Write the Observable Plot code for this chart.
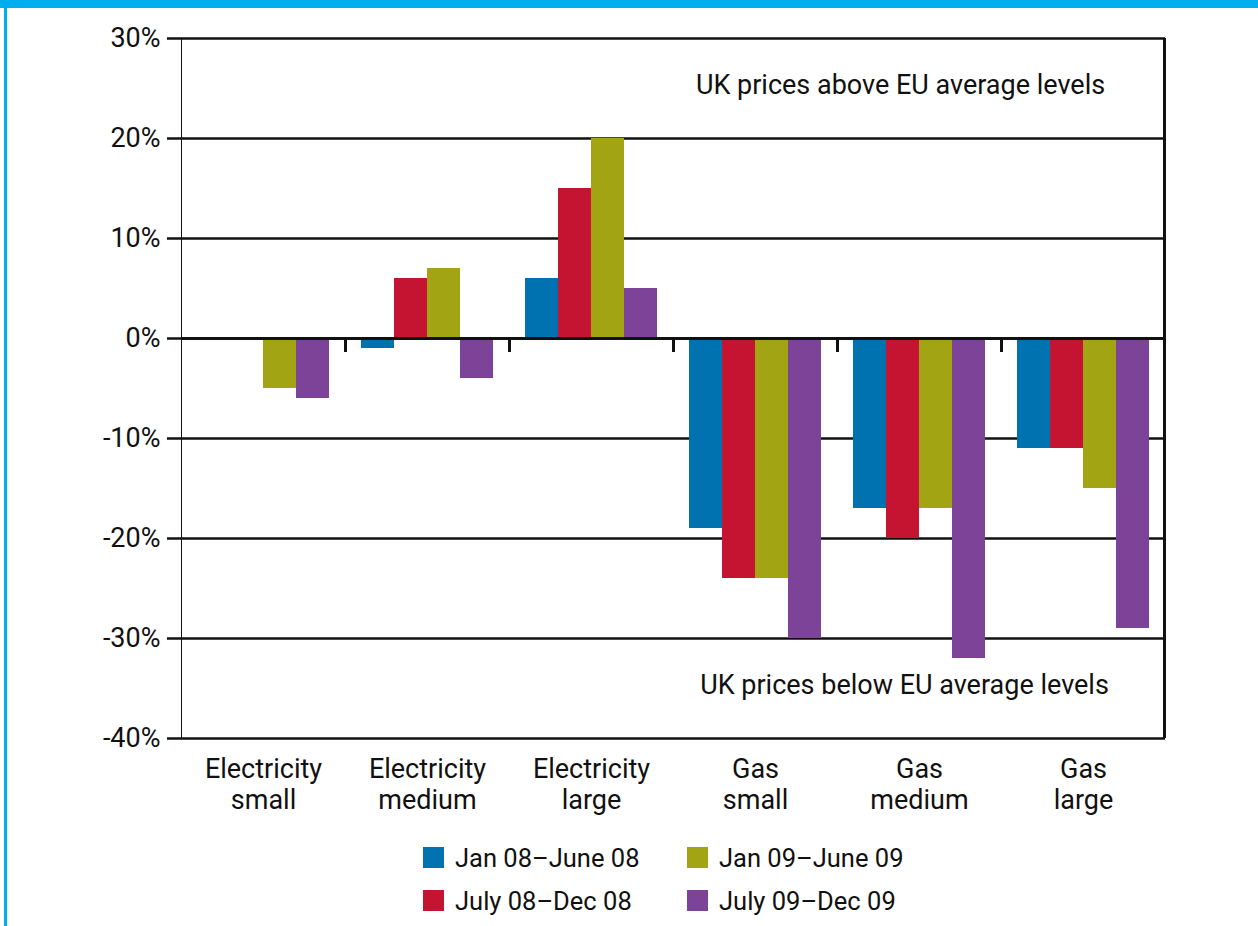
<!DOCTYPE html>
<html>
<head>
<meta charset="utf-8">
<script src="https://cdn.jsdelivr.net/npm/d3@7"></script>
<script src="https://cdn.jsdelivr.net/npm/@observablehq/plot@0.6"></script>
<style>
  html, body { margin: 0; padding: 0; background: #fff; }
  #page { position: relative; width: 1258px; height: 926px; overflow: hidden; font-family: Roboto, "DejaVu Sans", sans-serif; color: #111; }
  #topbar { position: absolute; left: 0; top: 0; width: 1258px; height: 8px; background: #00aeef; }
  #leftbar { position: absolute; left: 4px; top: 8px; width: 3px; height: 918px; background: #00aeef; }
  #chart { position: absolute; left: 0; top: 0; }
  #legend { position: absolute; left: 423px; top: 846px; display: grid; grid-template-columns: 264px 264px; grid-template-rows: 23px 23px; row-gap: 20px; grid-auto-flow: column; font-size: 25.5px; }
  .item { display: flex; align-items: center; white-space: nowrap; }
  .sw { width: 21px; height: 21px; margin-right: 11px; flex: none; }
  #chart svg g[aria-label^="y-axis"] line, #chart svg g[aria-label^="y-axis"] path { stroke-width: 2.5px; stroke: #111; }
</style>
</head>
<body>
<div id="page">
  <div id="chart"></div>
  <div id="topbar"></div>
  <div id="leftbar"></div>
  <div id="legend"></div>
</div>
<script>
const categories = ["Electricity small", "Electricity medium", "Electricity large", "Gas small", "Gas medium", "Gas large"];
const categoryLabels = ["Electricity\nsmall", "Electricity\nmedium", "Electricity\nlarge", "Gas\nsmall", "Gas\nmedium", "Gas\nlarge"];
const series = ["Jan 08–June 08", "July 08–Dec 08", "Jan 09–June 09", "July 09–Dec 09"];
const colors = ["#0072b0", "#c41432", "#a2a414", "#7d4398"];
const jan08 = [null, -1, 6, -19, -17, -11];
const jul08 = [null, 6, 15, -24, -20, -11];
const jan09 = [-5, 7, 20, -24, -17, -15];
const jul09 = [-6, -4, 5, -30, -32, -29];
const yTicks = [30, 20, 10, 0, -10, -20, -30, -40];
const noteAbove = "UK prices above EU average levels";
const noteBelow = "UK prices below EU average levels";

const seriesValues = [jan08, jul08, jan09, jul09];
const rows = [];
categories.forEach((c, i) => {
  series.forEach((s, j) => rows.push({category: c, label: categoryLabels[i], series: s, value: seriesValues[j][i]}));
});

const W = 1258, H = 830, mL = 181, mR = 93, mT = 38, mB = 92;
const padOuter = 0.485;
const facetW = (W - mL - mR) / categories.length;
const bw = facetW / (series.length + 2 * padOuter);
const edgeOff = padOuter * bw + bw / 2;

const chart = Plot.plot({
  width: W, height: H,
  marginLeft: mL, marginRight: mR, marginTop: mT, marginBottom: mB,
  style: {fontFamily: "Roboto, 'DejaVu Sans', sans-serif", fontSize: "27px", color: "#111", background: "transparent", overflow: "visible"},
  facet: {data: rows, x: "category"},
  fx: {domain: categories, paddingInner: 0, paddingOuter: 0, axis: null, round: false},
  x: {domain: series, paddingInner: 0, paddingOuter: padOuter, axis: null, round: false},
  y: {domain: [-40, 30], ticks: yTicks, tickFormat: d => d + "%", tickSize: 14, tickPadding: 7, line: true, label: null},
  color: {domain: series, range: colors},
  marks: [
    Plot.ruleY(yTicks.filter(d => d !== 0), {stroke: "#111", strokeWidth: 2.4}),
    Plot.barY(rows, {x: "series", y: "value", fill: "series"}),
    Plot.ruleY([0], {stroke: "#111", strokeWidth: 3}),
    Plot.ruleX(rows, {filter: d => d.series === series[0] && d.category !== categories[0], x: "series", y1: 0, y2: -1.4, dx: -edgeOff, stroke: "#111", strokeWidth: 3}),
    Plot.ruleX(rows, {filter: d => d.series === series[3] && d.category === categories[5], x: "series", y1: -40, y2: 30, dx: edgeOff - 1, stroke: "#111", strokeWidth: 3}),
    Plot.text(rows, {filter: d => d.series === series[0], text: "label", frameAnchor: "bottom", lineAnchor: "top", dy: 17, lineHeight: 1.15, fill: "#111"}),
    Plot.text(rows, {filter: d => d.series === series[0] && d.category === categories[4], text: () => noteAbove, y: 25.3, dx: -19, fill: "#111"}),
    Plot.text(rows, {filter: d => d.series === series[0] && d.category === categories[4], text: () => noteBelow, y: -34.7, dx: -15, fill: "#111"})
  ]
});
document.getElementById("chart").appendChild(chart);

const legend = document.getElementById("legend");
series.forEach((s, j) => {
  const item = document.createElement("div");
  item.className = "item";
  const sw = document.createElement("span");
  sw.className = "sw";
  sw.style.background = colors[j];
  item.appendChild(sw);
  item.appendChild(document.createTextNode(s));
  legend.appendChild(item);
});
</script>
</body>
</html>
